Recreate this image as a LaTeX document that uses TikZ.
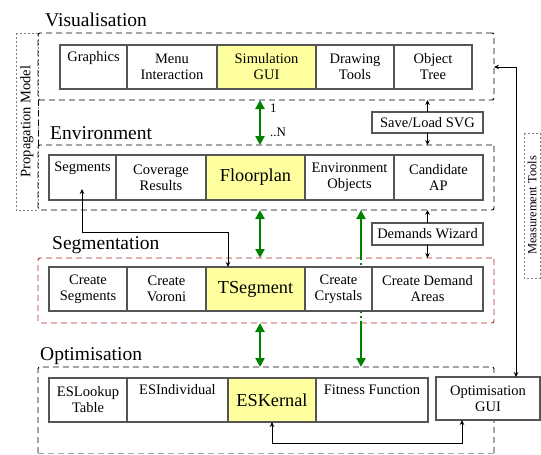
\documentclass[tikz,border=0pt]{standalone}
\usepackage{fontspec}
\setmainfont{Liberation Serif}
\usetikzlibrary{arrows.meta}
\definecolor{cellgray}{RGB}{85,85,85}
\definecolor{hly}{RGB}{255,255,160}
\definecolor{ggreen}{RGB}{0,130,0}
\definecolor{dred}{RGB}{170,40,40}
\begin{document}
\begin{tikzpicture}[x=1pt,y=-1pt,
  cell/.style={draw=cellgray, line width=1.1pt, fill=white, minimum height=44pt, inner sep=0pt, outer sep=0pt, align=center, font=\fontsize{14.5}{16}\selectfont},
  hl/.style={cell, fill=hly, font=\fontsize{18.3}{20}\selectfont},
  smallbox/.style={cell, minimum height=21pt, minimum width=111pt},
  layer/.style={draw=black, line width=0.9pt, dash pattern=on 6pt off 4pt, rounded corners=2pt, inner sep=0pt, outer sep=0pt},
  layerline/.style={draw=black, line width=0.9pt, dash pattern=on 6pt off 4pt},
  dotbox/.style={draw=gray, line width=0.8pt, dash pattern=on 2pt off 2pt, inner sep=0pt, outer sep=0pt, rotate=90},
  title/.style={anchor=base west, inner sep=0pt, font=\fontsize{19.5}{22}\selectfont},
  garrow/.style={draw=ggreen, line width=2.2pt, {Triangle[length=9pt,width=9pt]}-{Triangle[length=9pt,width=9pt]}},
  garrowone/.style={draw=ggreen, line width=2.2pt, -{Triangle[length=9pt,width=9pt]}},
  gdot/.style={draw=ggreen, line width=2.2pt, dash pattern=on 2pt off 3pt},
  barrow/.style={draw=black, line width=0.9pt, -{Stealth[length=5pt,width=4.5pt]}},
  bboth/.style={draw=black, line width=0.9pt, {Stealth[length=5pt,width=4.5pt]}-{Stealth[length=5pt,width=4.5pt]}},
  lbl/.style={inner sep=0pt, font=\fontsize{13}{15}\selectfont}
]
\useasboundingbox (0,0) rectangle (541,455);

% titles
\node[title] (tvis) at (45,26) {Visualisation};
\node[title] (tenv) at (50,139) {Environment};
\node[title] (tseg) at (52,249) {Segmentation};
\node[title] (topt) at (40,360) {Optimisation};

% propagation model & measurement tools
\node[dotbox, minimum width=177pt, minimum height=22pt, font=\fontsize{14.5}{16}\selectfont] (prop) at (27,121.5) {Propagation Model};
\node[dotbox, minimum width=145pt, minimum height=16pt, font=\fontsize{12.5}{14}\selectfont] (meas) at (532,205.5) {Measurement Tools};

% layers
\node[layer, minimum width=456pt, minimum height=67pt] (vis) at (266,66.5) {};
\node[layer, minimum width=456pt, minimum height=65pt] (env) at (266,177.5) {};
\node[layer, draw=dred, minimum width=456pt, minimum height=65pt] (seg) at (266,290.5) {};
\node[inner sep=0pt, outer sep=0pt, minimum width=456pt, minimum height=86pt] (opt) at (266,410) {};
\draw[layerline, rounded corners=2pt] (opt.south west) -- (opt.north west) -- (opt.north east) -- (opt.south east);
\draw[layerline, draw=gray!70] (opt.south west) -- (opt.south east);
\draw[layerline] (vis.south west) -- (env.north west);

% visualisation row
\node[cell, minimum width=67pt] (graphics) at (93.5,67) {Graphics\\\strut};
\node[cell, minimum width=90pt] (menu) at (172,67) {Menu\\Interaction};
\node[cell, fill=hly, minimum width=99pt] (simgui) at (266.5,67) {Simulation\\GUI};
\node[cell, minimum width=78pt] (drawing) at (355,67) {Drawing\\Tools};
\node[cell, minimum width=78pt] (objtree) at (433,67) {Object\\Tree};

% environment row
\node[cell, minimum width=67pt, minimum height=45pt] (segments) at (82.5,177.5) {Segments\\\strut};
\node[cell, minimum width=90pt, minimum height=45pt] (coverage) at (161,177.5) {Coverage\\Results};
\node[hl, minimum width=99pt, minimum height=45pt] (floorplan) at (255.5,177.5) {Floorplan};
\node[cell, minimum width=89pt, minimum height=45pt] (envobj) at (349.5,177.5) {Environment\\Objects};
\node[cell, minimum width=89pt, minimum height=45pt] (candap) at (438.5,177.5) {Candidate\\AP};

% segmentation row
\node[cell, minimum width=78pt] (cseg) at (88,289) {Create\\Segments};
\node[cell, minimum width=79pt] (cvor) at (166.5,289) {Create\\Voroni};
\node[hl, minimum width=99pt] (tsegment) at (255.5,289) {TSegment};
\node[cell, minimum width=67pt] (crystals) at (338.5,289) {Create\\Crystals};
\node[cell, minimum width=111pt] (demand) at (427.5,289) {Create Demand\\Areas};

% optimisation row
\node[cell, minimum width=78pt] (eslookup) at (88,400) {ESLookup\\Table};
\node[cell, minimum width=101pt] (esind) at (177.5,400) {ESIndividual\\\strut};
\node[hl, minimum width=88pt] (eskernal) at (272,400) {ESKernal};
\node[cell, minimum width=112pt] (fitness) at (372,400) {Fitness Function\\\strut};
\node[cell, minimum width=104pt, minimum height=43pt] (optgui) at (488,398.5) {Optimisation\\GUI};

% small boxes
\node[smallbox] (saveload) at (427.5,122.5) {Save/Load SVG};
\node[smallbox, minimum height=22pt] (wizard) at (427.5,234) {Demands Wizard};

% green connectors
\coordinate (gx) at (260,0);
\coordinate (gx2) at (361,0);
\draw[garrow] (vis.south -| gx) -- (env.north -| gx);
\draw[garrow] (env.south -| gx) -- (seg.north -| gx);
\draw[garrow] (seg.south -| gx) -- (opt.north -| gx);
\draw[garrowone] (seg.north -| gx2) -- (env.south -| gx2);
\draw[gdot] (seg.north -| gx2) -- (crystals.north -| gx2);
\draw[gdot] (crystals.south -| gx2) -- (seg.south -| gx2);
\draw[garrowone] (seg.south -| gx2) -- (opt.north -| gx2);
\node[lbl, anchor=west] (one) at (270,108) {1};
\node[lbl, anchor=west] (many) at (270,132) {..N};

% black connectors
\draw[barrow] (saveload.north) -- (vis.south -| saveload.north);
\draw[barrow] (saveload.south) -- (env.north -| saveload.south);
\draw[barrow] (wizard.north) -- (env.south -| wizard.north);
\draw[barrow] (wizard.south) -- (seg.north -| wizard.south);

\coordinate (segtip) at (82,189);
\coordinate (bend1) at (228,232);
\draw[bboth] (segtip) -- (segtip |- bend1) -- (bend1) -- (bend1 |- tsegment.north);

\coordinate (bend2) at (462,443);
\draw[bboth] (eskernal.south) -- (eskernal.south |- bend2) -- (bend2) -- (bend2 |- optgui.south);

\coordinate (bend3) at (516,67);
\draw[bboth] (optgui.north -| bend3) -- (bend3) -- (vis.east |- bend3);
\end{tikzpicture}
\end{document}
